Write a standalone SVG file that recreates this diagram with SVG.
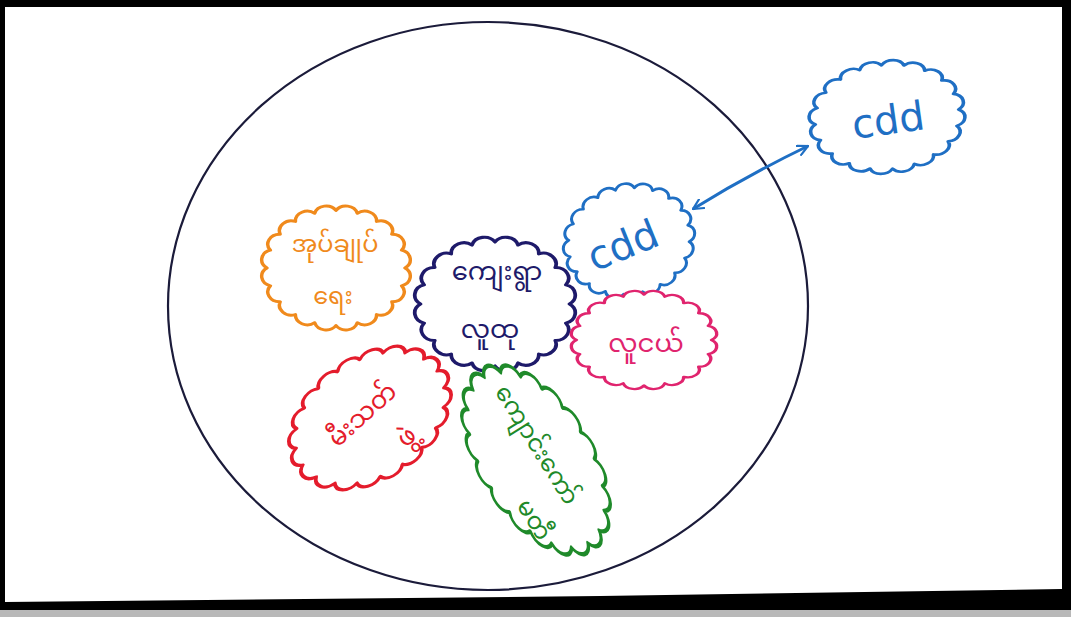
<svg xmlns="http://www.w3.org/2000/svg" width="1071" height="617" viewBox="0 0 1071 617">
<style>
.cl{fill:#fff;stroke-width:2.5;stroke-linejoin:round;vector-effect:non-scaling-stroke}
.mm{font-family:'Noto Sans Myanmar','Padauk','Myanmar Text','Noto Sans','DejaVu Sans',sans-serif;text-anchor:middle}
.lat{font-family:'DejaVu Sans','Liberation Sans',sans-serif;text-anchor:middle;font-size:40px;fill:#1f6fc4}
</style>
<defs>
<path id="cloud" d="M50,0 A8.6,8.6 0 0 1 47.55,15.45 A8.6,8.6 0 0 1 40.45,29.39 A8.6,8.6 0 0 1 29.39,40.45 A8.6,8.6 0 0 1 15.45,47.55 A8.6,8.6 0 0 1 0,50 A8.6,8.6 0 0 1 -15.45,47.55 A8.6,8.6 0 0 1 -29.39,40.45 A8.6,8.6 0 0 1 -40.45,29.39 A8.6,8.6 0 0 1 -47.55,15.45 A8.6,8.6 0 0 1 -50,0 A8.6,8.6 0 0 1 -47.55,-15.45 A8.6,8.6 0 0 1 -40.45,-29.39 A8.6,8.6 0 0 1 -29.39,-40.45 A8.6,8.6 0 0 1 -15.45,-47.55 A8.6,8.6 0 0 1 0,-50 A8.6,8.6 0 0 1 15.45,-47.55 A8.6,8.6 0 0 1 29.39,-40.45 A8.6,8.6 0 0 1 40.45,-29.39 A8.6,8.6 0 0 1 47.55,-15.45 A8.6,8.6 0 0 1 50,0 Z"/>
<marker id="ah" viewBox="0 0 12 12" refX="11" refY="6" markerWidth="12" markerHeight="12" markerUnits="userSpaceOnUse" orient="auto-start-reverse">
<path d="M1,1 L11,6 L1,11" fill="none" stroke="#1f6fc4" stroke-width="2.2" stroke-linecap="round"/>
</marker>
</defs>
<!-- frame -->
<rect x="0" y="0" width="1071" height="617" fill="#b8b8b8"/>
<rect x="0" y="0" width="1071" height="610" fill="#000"/>
<polygon points="5,7 1062,7 1062,589 600,596 5,602" fill="#fff"/>
<!-- big circle -->
<g id="community">
<ellipse cx="488" cy="306" rx="320" ry="284" fill="none" stroke="#1b1b3a" stroke-width="2.2"/>
</g>
<g id="connectors">
<path d="M693,209 Q748,175 808,146" fill="none" stroke="#1f6fc4" stroke-width="3" marker-start="url(#ah)" marker-end="url(#ah)"/>
</g>
<g id="n-admin">
<use href="#cloud" class="cl" stroke="#f08a1c" transform="translate(336,268) scale(1.38,1.15)"/>
<text class="mm" x="335" y="252" font-size="24" fill="#f08a1c">အုပ်ချုပ်</text>
<text class="mm" x="333" y="304" font-size="24" fill="#f08a1c">ရေး</text>
</g>
<g id="n-village">
<use href="#cloud" class="cl" stroke="#1e1a6a" transform="translate(495,304) scale(1.49,1.24)"/>
<text class="mm" x="497" y="280" font-size="26" fill="#1e1a6a">ကျေးရွာ</text>
<text class="mm" x="490" y="338" font-size="26" fill="#1e1a6a">လူထု</text>
</g>
<g id="n-cdd1">
<use href="#cloud" class="cl" stroke="#1f6fc4" transform="translate(629,241) rotate(-15) scale(1.22,1.05)"/>
<text class="lat" transform="translate(628,258) rotate(-22)">cdd</text>
</g>
<g id="n-cdd2">
<use href="#cloud" class="cl" stroke="#1f6fc4" transform="translate(887,117) rotate(-6) scale(1.44,1.04)"/>
<text class="lat" transform="translate(890,134) rotate(-8)">cdd</text>
</g>
<g id="n-youth">
<use href="#cloud" class="cl" stroke="#e0246e" transform="translate(644,340) scale(1.35,0.91)"/>
<text class="mm" x="646" y="352" font-size="26" fill="#e0246e">လူငယ်</text>
</g>
<g id="n-fire">
<use href="#cloud" class="cl" stroke="#e41c2c" transform="translate(370,418) rotate(-35) scale(1.64,1.13)"/>
<g transform="translate(368,418) rotate(-42)">
<text class="mm" x="-2" y="2" font-size="25" fill="#e41c2c">မီးသတ်</text>
<text class="mm" x="16" y="48" font-size="25" fill="#e41c2c">ဖွဲ့</text>
</g>
</g>
<g id="n-school">
<use href="#cloud" class="cl" stroke="#1f8a2a" transform="translate(536,460) rotate(58) scale(1.96,1.05)"/>
<g transform="translate(536,462) rotate(58)">
<text class="mm" x="-14" y="-2" font-size="24" fill="#1f8a2a">ကျောင်းကော်</text>
<text class="mm" x="48" y="40" font-size="24" fill="#1f8a2a">မတီ</text>
</g>
</g>
</svg>
